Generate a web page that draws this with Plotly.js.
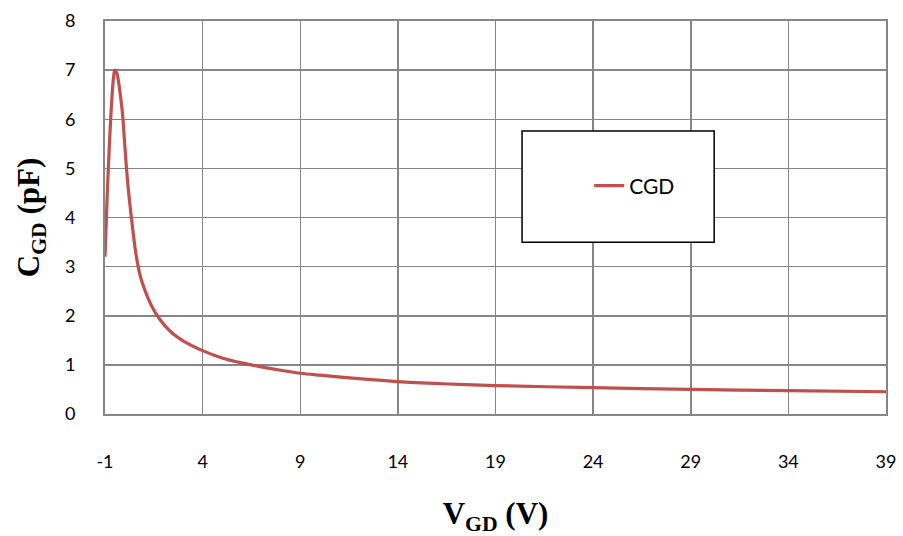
<!DOCTYPE html>
<html>
<head>
<meta charset="utf-8">
<script src="https://cdn.plot.ly/plotly-3.0.1.min.js"></script>
<style>html,body{margin:0;padding:0;background:#fff;}#chart{width:903px;height:536px;}</style>
</head>
<body>
<div id="chart"></div>
<script>
// V_GD (V)
const vgd = [-1, -0.9, -0.83, -0.71, -0.6, -0.55, -0.5, -0.4, -0.3, -0.2, -0.1, 0, 0.1, 0.2, 0.35, 0.5, 0.6, 0.7, 0.8, 0.9, 1.1, 1.4, 1.75, 2.1, 2.5, 3, 4, 5, 6, 7, 8, 9, 10, 12, 14, 16.3, 19, 24, 29, 34, 39];
// C_GD (pF)
const cgd = [3.2, 4.3, 5.0, 6.0, 6.7, 6.9, 7.0, 6.95, 6.75, 6.45, 6.1, 5.55, 5.0, 4.55, 4.0, 3.5, 3.22, 3.0, 2.82, 2.68, 2.46, 2.19, 1.96, 1.785, 1.63, 1.49, 1.29, 1.14, 1.04, 0.96, 0.89, 0.83, 0.79, 0.72, 0.66, 0.616, 0.577, 0.537, 0.50, 0.474, 0.453];
const seriesName = 'CGD';
const xTicks = [-1, 4, 9, 14, 19, 24, 29, 34, 39];
const yTicks = [0, 1, 2, 3, 4, 5, 6, 7, 8];

const gridCol = '#868686';
const tickFont = {family: 'Lato, "Open Sans", sans-serif', size: 18, color: '#000'};

const trace = {
  x: vgd, y: cgd, name: seriesName, type: 'scatter', mode: 'lines',
  line: {color: '#C0504D', width: 3.2, shape: 'spline', smoothing: 0.8}
};

const layout = {
  width: 903, height: 536,
  margin: {l: 105, r: 17, t: 21, b: 122},
  paper_bgcolor: '#fff', plot_bgcolor: '#fff',
  showlegend: true,
  legend: {x: 0.62, y: 0.58, xanchor: 'left', yanchor: 'middle', bgcolor: 'rgba(0,0,0,0)',
           borderwidth: 0, font: {family: 'Lato, "Open Sans", sans-serif', size: 21, color: '#000'}},
  xaxis: {
    range: [-1, 39], tickvals: xTicks, ticktext: xTicks.map(String), tickmode: 'array',
    showgrid: true, gridcolor: gridCol, gridwidth: 1.5,
    showline: true, linecolor: gridCol, linewidth: 2, mirror: true,
    zeroline: false, ticks: '', tickfont: tickFont, ticklabelstandoff: 30,
    title: {text: '<b>V<sub>GD</sub> (V)</b>', font: {family: '"Liberation Serif", "Times New Roman", serif', size: 31, color: '#000'}, standoff: 32}
  },
  yaxis: {
    range: [0, 8], tickvals: yTicks, tickmode: 'array',
    showgrid: true, gridcolor: gridCol, gridwidth: 1.5,
    showline: true, linecolor: gridCol, linewidth: 2, mirror: true,
    zeroline: false, ticks: '', tickfont: tickFont, ticklabelstandoff: 24,
    title: {text: '<b>C<sub>GD</sub> (pF)</b>', font: {family: '"Liberation Serif", "Times New Roman", serif', size: 31, color: '#000'}, standoff: 16}
  },
  shapes: [{
    type: 'rect', xref: 'paper', yref: 'paper', x0: 0.534, x1: 0.780, y0: 0.437, y1: 0.720,
    fillcolor: '#fff', line: {color: '#000', width: 1.5}, layer: 'above'
  }]
};

Plotly.newPlot('chart', [trace], layout, {displayModeBar: false, staticPlot: true});
</script>
</body>
</html>
